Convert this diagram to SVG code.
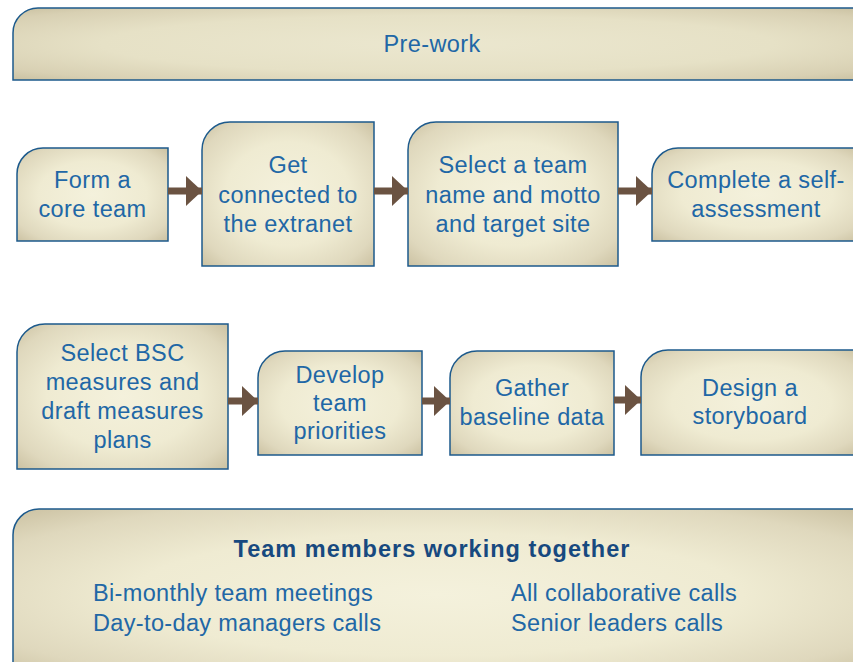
<svg xmlns="http://www.w3.org/2000/svg" width="853" height="662" viewBox="0 0 853 662">
  <defs>
    <!-- parchment fill, light centre fading to a tan rim -->
    <radialGradient id="parch" cx="50%" cy="50%" r="72%">
      <stop offset="0" stop-color="#f4f1dc"/>
      <stop offset="0.5" stop-color="#efebd2"/>
      <stop offset="0.8" stop-color="#dfd8bd"/>
      <stop offset="1" stop-color="#c9bf9f"/>
    </radialGradient>
    <radialGradient id="parchBand" cx="50%" cy="50%" r="72%">
      <stop offset="0" stop-color="#ebe7cf"/>
      <stop offset="0.55" stop-color="#e6e1c6"/>
      <stop offset="0.85" stop-color="#d8d0b3"/>
      <stop offset="1" stop-color="#c8bf9f"/>
    </radialGradient>
    <marker id="head" viewBox="0 0 16 30" refX="16" refY="15" markerWidth="16" markerHeight="30" markerUnits="userSpaceOnUse" orient="auto">
      <path d="M0,0 L16,15 L0,30 Z" fill="#6b5342"/>
    </marker>
  </defs>
  <style>
    .box { fill: url(#parch); stroke: #1d5a8c; stroke-width: 1.5; }
    .band { fill: url(#parchBand); stroke: #1d5a8c; stroke-width: 1.5; }
    .lbl { font-family: "Liberation Sans", Arial, sans-serif; font-size: 23.5px; letter-spacing: 0.4px; fill: #2167a6; text-anchor: middle; }
    .item { font-family: "Liberation Sans", Arial, sans-serif; font-size: 23.5px; letter-spacing: 0.35px; fill: #2167a6; }
    .title { font-family: "Liberation Sans", Arial, sans-serif; font-size: 23.5px; font-weight: bold; letter-spacing: 1px; fill: #17497f; text-anchor: middle; }
    .arrow { stroke: #6b5342; stroke-width: 7; fill: none; marker-end: url(#head); }
  </style>

  <rect width="853" height="662" fill="#ffffff"/>

  <!-- header band -->
  <g id="prework">
    <path class="band" d="M13,33 A25,25 0 0 1 38,8 H862 V80 H13 Z"/>
    <text class="lbl" x="432" y="52">Pre-work</text>
  </g>

  <!-- first row -->
  <g id="form-core-team">
    <path class="box" d="M17,174 A26,26 0 0 1 43,148 H168 V241 H17 Z"/>
    <text class="lbl" x="92.5" y="188">Form a</text>
    <text class="lbl" x="92.5" y="217">core team</text>
  </g>
  <g id="get-connected">
    <path class="box" d="M202,150 A28,28 0 0 1 230,122 H374 V266 H202 Z"/>
    <text class="lbl" x="288" y="173">Get</text>
    <text class="lbl" x="288" y="202.5">connected to</text>
    <text class="lbl" x="288" y="232">the extranet</text>
  </g>
  <g id="select-team-name">
    <path class="box" d="M408,150 A28,28 0 0 1 436,122 H618 V266 H408 Z"/>
    <text class="lbl" x="513" y="173">Select a team</text>
    <text class="lbl" x="513" y="202.5">name and motto</text>
    <text class="lbl" x="513" y="232">and target site</text>
  </g>
  <g id="self-assessment">
    <path class="box" d="M652,174 A26,26 0 0 1 678,148 H862 V241 H652 Z"/>
    <text class="lbl" x="756" y="188">Complete a self-</text>
    <text class="lbl" x="756" y="217">assessment</text>
  </g>

  <!-- second row -->
  <g id="select-bsc">
    <path class="box" d="M17,352 A28,28 0 0 1 45,324 H228 V469 H17 Z"/>
    <text class="lbl" x="122.5" y="361">Select BSC</text>
    <text class="lbl" x="122.5" y="390">measures and</text>
    <text class="lbl" x="122.5" y="419">draft measures</text>
    <text class="lbl" x="122.5" y="448">plans</text>
  </g>
  <g id="team-priorities">
    <path class="box" d="M258,378 A27,27 0 0 1 285,351 H422 V455 H258 Z"/>
    <text class="lbl" x="340" y="383">Develop</text>
    <text class="lbl" x="340" y="411">team</text>
    <text class="lbl" x="340" y="439">priorities</text>
  </g>
  <g id="baseline-data">
    <path class="box" d="M450,378 A27,27 0 0 1 477,351 H614 V455 H450 Z"/>
    <text class="lbl" x="532" y="396">Gather</text>
    <text class="lbl" x="532" y="425">baseline data</text>
  </g>
  <g id="storyboard">
    <path class="box" d="M641,377 A27,27 0 0 1 668,350 H862 V455 H641 Z"/>
    <text class="lbl" x="750" y="396">Design a</text>
    <text class="lbl" x="750" y="424">storyboard</text>
  </g>

  <!-- footer panel -->
  <g id="team-working-together">
    <path class="box" d="M13,535 A26,26 0 0 1 39,509 H862 V680 H13 Z"/>
    <text class="title" x="432" y="557">Team members working together</text>
    <text class="item" x="93" y="601">Bi-monthly team meetings</text>
    <text class="item" x="93" y="631">Day-to-day managers calls</text>
    <text class="item" x="511" y="601">All collaborative calls</text>
    <text class="item" x="511" y="631">Senior leaders calls</text>
  </g>

  <!-- connectors -->
  <g id="connectors">
    <line class="arrow" x1="168" y1="191" x2="202" y2="191"/>
    <line class="arrow" x1="374" y1="191" x2="408" y2="191"/>
    <line class="arrow" x1="618" y1="191" x2="652" y2="191"/>
    <line class="arrow" x1="228" y1="401" x2="258" y2="401"/>
    <line class="arrow" x1="422" y1="401" x2="450" y2="401"/>
    <line class="arrow" x1="614" y1="400" x2="641" y2="400"/>
  </g>
</svg>
